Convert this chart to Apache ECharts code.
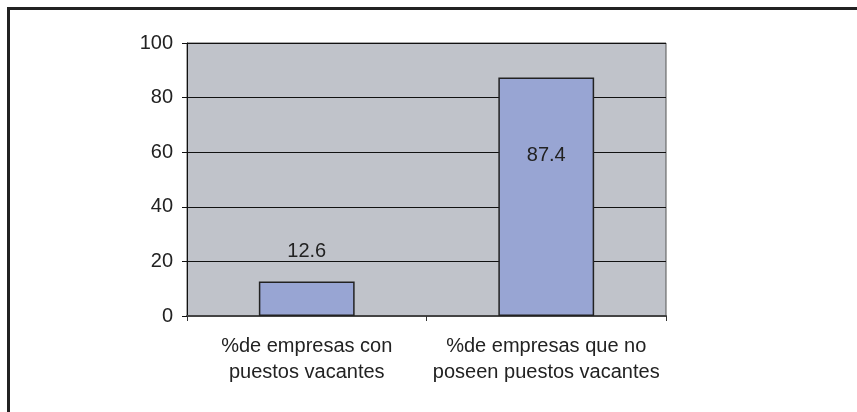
<!DOCTYPE html>
<html>
<head>
<meta charset="utf-8">
<script src="https://cdn.jsdelivr.net/npm/echarts@6/dist/echarts.min.js"></script>
<style>
html,body{margin:0;padding:0;background:#fff;}
#chart{width:857px;height:412px;}
</style>
</head>
<body>
<div id="chart"></div>
<script>
var categories = ['%de empresas con\npuestos vacantes', '%de empresas que no\nposeen puestos vacantes'];
var values = [12.6, 87.4];
var yTicks = [0, 20, 40, 60, 80, 100];

var myChart = echarts.init(document.getElementById('chart'));

var labelPos = [['50%', -30], ['50%', 78]];

var option = {
    animation: false,
    backgroundColor: '#ffffff',
    textStyle: { fontFamily: 'Liberation Sans, Arial, sans-serif' },
    graphic: [{
        type: 'rect',
        shape: { x: 8.5, y: 8.5, width: 900, height: 450 },
        style: { fill: 'none', stroke: '#222', lineWidth: 3 },
        z: 100
    }],
    grid: {
        left: 187, right: 191, top: 43, bottom: 96,
        show: true,
        backgroundColor: '#c0c3ca',
        borderColor: '#555',
        borderWidth: 1
    },
    xAxis: {
        type: 'category',
        data: categories,
        axisLine: { lineStyle: { color: '#444', width: 2 } },
        axisTick: { show: true, length: 5, lineStyle: { color: '#333' } },
        axisLabel: { color: '#222', fontSize: 20, lineHeight: 26, margin: 17, interval: 0 }
    },
    yAxis: {
        type: 'value',
        min: yTicks[0],
        max: yTicks[yTicks.length - 1],
        interval: 20,
        axisLine: { show: true, lineStyle: { color: '#111', width: 1 } },
        axisTick: { show: true, length: 5, lineStyle: { color: '#111' } },
        axisLabel: { color: '#222', fontSize: 20, margin: 14 },
        splitLine: { lineStyle: { color: '#111', width: 1 } }
    },
    series: [{
        type: 'bar',
        barWidth: '40%',
        data: values.map(function (v, i) {
            return {
                value: v,
                label: {
                    show: true,
                    position: labelPos[i],
                    align: 'center',
                    verticalAlign: 'middle',
                    color: '#222',
                    fontSize: 20
                }
            };
        }),
        itemStyle: {
            color: '#98a5d3',
            borderColor: '#222',
            borderWidth: 1.5
        }
    }]
};
myChart.setOption(option);
</script>
</body>
</html>
